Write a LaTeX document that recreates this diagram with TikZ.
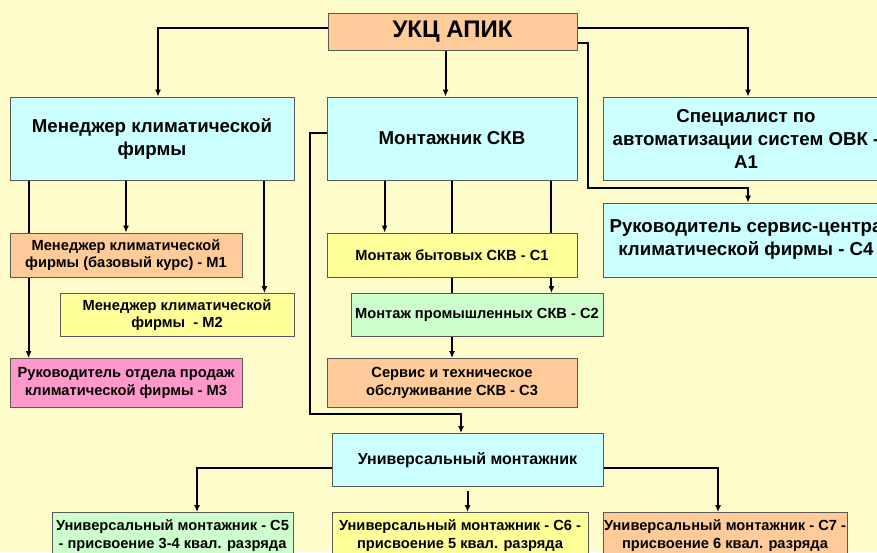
\documentclass[tikz,border=0pt]{standalone}
\usepackage{fontspec}
\setmainfont{Liberation Sans}
\usetikzlibrary{arrows.meta}
\definecolor{paper}{HTML}{FFFCCC}
\definecolor{peach}{HTML}{FFCC99}
\definecolor{skyblue}{HTML}{CCFFFF}
\definecolor{lemon}{HTML}{FFFF99}
\definecolor{mint}{HTML}{CCFFCC}
\definecolor{rose}{HTML}{FF99CC}
\pgfdeclarelayer{back}
\pgfdeclarelayer{lines}
\pgfsetlayers{back,lines,main}

\begin{document}
\begin{tikzpicture}[node distance=60pt, >={Latex[length=7pt,width=6pt]}]
  \tikzstyle{card} = [rectangle, draw=black!65, line width=.8pt, align=center, inner sep=2pt,
                      font=\fontsize{14.67}{17.5}\selectfont\bfseries]
  \tikzstyle{bigcard} = [card, minimum height=83pt, font=\fontsize{18.67}{23}\selectfont\bfseries]
  \tikzstyle{link} = [->, line width=2pt]

\useasboundingbox (0,0) rectangle (877pt,-552pt);
\clip (0,0) rectangle (877pt,-552pt);
\begin{pgfonlayer}{back}
\fill[paper] (0,0) rectangle (877pt,-552pt);
\end{pgfonlayer}

\node[card, fill=peach, minimum width=249pt, minimum height=37pt, font=\fontsize{24}{27}\selectfont\bfseries] (ukc) at (452.5pt,-31.5pt) {УКЦ АПИК};
\node[bigcard, fill=skyblue, minimum width=284pt, below of=ukc, xshift=-300.5pt, yshift=-47pt] (mgr) {Менеджер климатической\\фирмы};
\node[bigcard, fill=skyblue, minimum width=250pt, below of=ukc, xshift=-0.5pt, yshift=-47pt] (skv) {Монтажник СКВ};
\node[bigcard, fill=skyblue, minimum width=286pt, below of=ukc, xshift=293.5pt, yshift=-47pt] (a1) {Специалист по\\автоматизации систем ОВК -\\А1};
\node[bigcard, fill=skyblue, minimum width=286pt, minimum height=74pt, below of=a1, yshift=-41.5pt] (c4) {Руководитель сервис-центра\\климатической фирмы - С4};
\node[card, fill=peach, minimum width=232pt, minimum height=44pt, below of=mgr, xshift=-26pt, yshift=-56.5pt] (m1) {Менеджер климатической\\фирмы (базовый курс) - М1};
\node[card, fill=lemon, minimum width=234pt, minimum height=43pt, below of=m1, xshift=51pt] (m2) {Менеджер климатической\\фирмы\ \ - М2};
\node[card, fill=rose, minimum width=232pt, minimum height=49pt, below of=m2, xshift=-51pt, yshift=-8pt] (m3) {Руководитель отдела продаж\\климатической фирмы - М3};
\node[card, fill=lemon, minimum width=250pt, minimum height=44pt, below of=skv, yshift=-56.5pt] (c1) {Монтаж бытовых СКВ - С1};
\node[card, fill=mint, minimum width=252pt, minimum height=43pt, below of=c1, xshift=25pt] (c2) {Монтаж промышленных СКВ - С2};
\node[card, fill=peach, minimum width=250pt, minimum height=49pt, below of=c2, xshift=-25pt, yshift=-8pt] (c3) {Сервис и техническое\\обслуживание СКВ - С3};
\node[card, fill=skyblue, minimum width=271pt, minimum height=53pt, below of=c3, xshift=15.5pt, yshift=-17pt, font=\fontsize{16}{19}\selectfont\bfseries] (univ) {Универсальный монтажник};
\node[card, fill=mint, minimum width=241pt, minimum height=46pt, below of=univ, xshift=-295pt, yshift=-15.5pt] (c5) {Универсальный монтажник - С5\\- присвоение 3-4 квал. разряда};
\node[card, fill=lemon, minimum width=256pt, minimum height=46pt, inner xsep=0pt, below of=univ, xshift=-7.5pt, yshift=-15.5pt] (c6) {Универсальный монтажник - С6 -\\присвоение 5 квал. разряда};
\node[card, fill=peach, minimum width=244pt, minimum height=46pt, inner xsep=0pt, below of=univ, xshift=257.5pt, yshift=-15.5pt] (c7) {Универсальный монтажник - С7 -\\присвоение 6 квал. разряда};

\begin{pgfonlayer}{lines}
\draw[link] ([yshift=3.5pt]ukc.west) -| ([xshift=6pt]mgr.north);
\draw[link] ([xshift=-7pt]ukc.south) -- ([xshift=-7pt]ukc.south |- skv.north);
\draw[link] ([yshift=3.5pt]ukc.east) -| ([xshift=2pt]a1.north);
\draw[link] ([yshift=-11.5pt]ukc.east) -| ([xshift=-15pt,yshift=-8pt]a1.south west) -| ([xshift=2pt]c4.north);
\draw[link] (m1.north |- mgr.south) -- (m1.north);
\draw[link] ([xshift=-30pt]mgr.south east) -- ([xshift=-30pt]mgr.south east |- m2.north);
\draw[link] ([xshift=19pt]mgr.south west) -- ([xshift=19pt]mgr.south west |- m3.north);
\draw[link] ([xshift=58pt]skv.south west) -- ([xshift=58pt]skv.south west |- c1.north);
\draw[link] (skv.south) -- (c3.north);
\draw[link] ([xshift=-26pt]skv.south east) -- ([xshift=-26pt]skv.south east |- c2.north);
\draw[link] ([yshift=5.5pt]skv.west) -- ++(-17pt,0) |- ([xshift=-6.5pt,yshift=19pt]univ.north) -- ([xshift=-6.5pt]univ.north);
\draw[link] ([yshift=-7.5pt]univ.west) -| ([xshift=24.5pt]c5.north);
\draw[link] ([yshift=-4pt]univ.south) -- (univ.south |- c6.north);
\draw[link] ([yshift=-7.5pt]univ.east) -| ([xshift=-7pt]c7.north);
\end{pgfonlayer}
\end{tikzpicture}
\end{document}
